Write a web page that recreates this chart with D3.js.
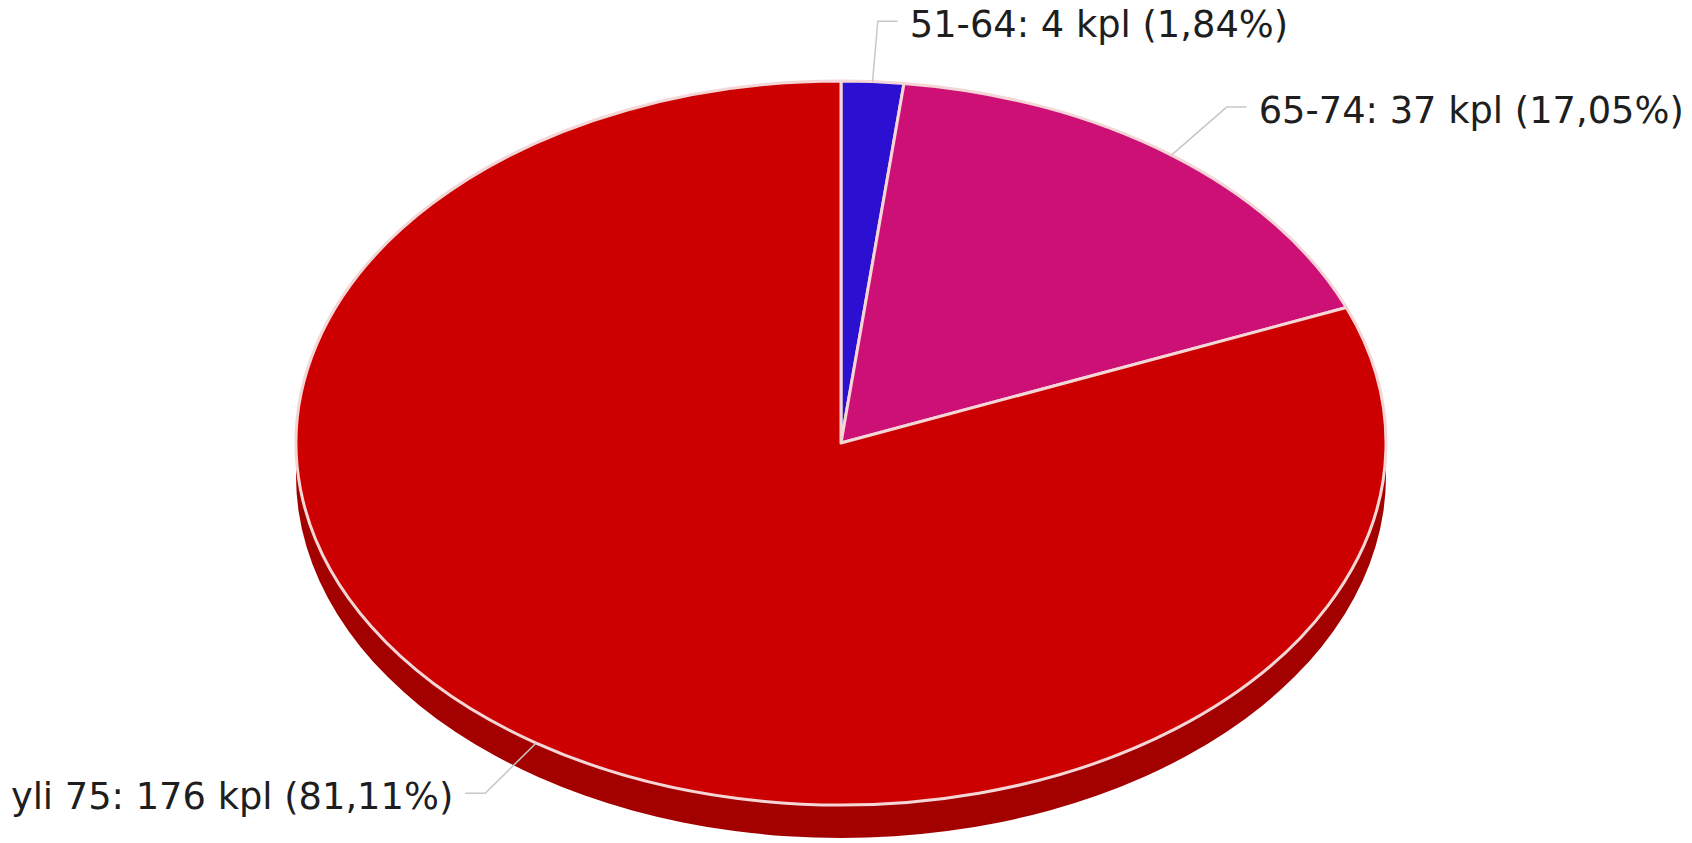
<!DOCTYPE html>
<html>
<head>
<meta charset="utf-8">
<script src="https://cdn.jsdelivr.net/npm/d3@7"></script>
<style>
  html, body { margin: 0; padding: 0; background: #ffffff; }
  svg { display: block; }
</style>
</head>
<body>
<script>
// ---- data ----
const categories = ["51-64", "65-74", "yli 75"];
const counts = [4, 37, 176];
const percentLabels = ["1,84%", "17,05%", "81,11%"];
const unitLabel = "kpl";
const colors = ["#2b10d2", "#cd1076", "#cc0000"];
const sideColors = ["#1f0a9c", "#9a0c58", "#a30000"];

// ---- layout ----
const W = 1692, H = 843;
const cx = 841, cy = 443, rx = 545, ry = 362, depth = 33;
const labelRx = rx * 1.167, labelRy = ry * 1.167;

const svg = d3.select("body").append("svg").attr("width", W).attr("height", H);

const data = categories.map((c, i) => ({ name: c, value: counts[i], pct: percentLabels[i], color: colors[i], side: sideColors[i] }));
const pie = d3.pie().sort(null).value(d => d.value).startAngle(0).endAngle(2 * Math.PI);
const arcs = pie(data);

const ex = (a, sx = rx) => cx + sx * Math.sin(a);
const ey = (a, sy = ry) => cy - sy * Math.cos(a);

function topPath(a0, a1) {
  const large = (a1 - a0) > Math.PI ? 1 : 0;
  return `M${cx},${cy}L${ex(a0)},${ey(a0)}A${rx},${ry} 0 ${large} 1 ${ex(a1)},${ey(a1)}Z`;
}
function sidePath(a0, a1) {
  const s = Math.max(a0, Math.PI / 2), e = Math.min(a1, 3 * Math.PI / 2);
  if (e <= s) return null;
  const large = (e - s) > Math.PI ? 1 : 0;
  return `M${ex(s)},${ey(s)}A${rx},${ry} 0 ${large} 1 ${ex(e)},${ey(e)}` +
         `L${ex(e)},${ey(e) + depth}A${rx},${ry} 0 ${large} 0 ${ex(s)},${ey(s) + depth}Z`;
}

// sides
svg.append("g").selectAll("path")
  .data(arcs.filter(d => sidePath(d.startAngle, d.endAngle)))
  .join("path")
  .attr("d", d => sidePath(d.startAngle, d.endAngle))
  .attr("fill", d => d.data.side)
  .attr("stroke", "none");

// top faces
svg.append("g").selectAll("path")
  .data(arcs)
  .join("path")
  .attr("d", d => topPath(d.startAngle, d.endAngle))
  .attr("fill", d => d.data.color)
  .attr("stroke", "#f4d6d6")
  .attr("stroke-width", 3)
  .attr("stroke-linejoin", "round");

// labels
const lab = svg.append("g");
arcs.forEach(d => {
  const m = (d.startAngle + d.endAngle) / 2;
  const right = Math.sin(m) >= 0;
  const p0 = [ex(m), ey(m)];
  const p1 = [ex(m, labelRx), ey(m, labelRy)];
  const p2 = [p1[0] + (right ? 20 : -20), p1[1]];
  lab.append("polyline")
    .attr("points", [p0, p1, p2].map(p => p.join(",")).join(" "))
    .attr("fill", "none")
    .attr("stroke", "#c8c8c8")
    .attr("stroke-width", 1.5);
  lab.append("text")
    .attr("x", p2[0] + (right ? 12 : -12))
    .attr("y", p2[1])
    .attr("dy", "0.43em")
    .attr("text-anchor", right ? "start" : "end")
    .attr("font-family", "'DejaVu Sans', Verdana, sans-serif")
    .attr("font-size", 36.8)
    .attr("fill", "#1e1e1e")
    .text(`${d.data.name}: ${d.data.value} ${unitLabel} (${d.data.pct})`);
});
</script>
</body>
</html>
